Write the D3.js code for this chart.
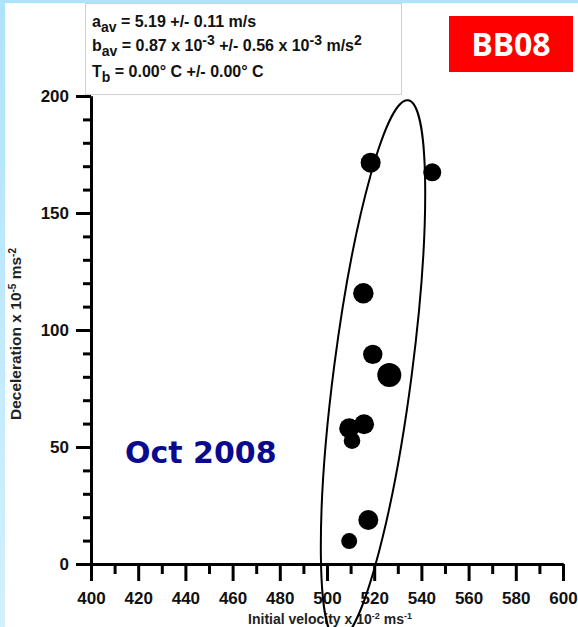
<!DOCTYPE html>
<html>
<head>
<meta charset="utf-8">
<script src="https://cdn.jsdelivr.net/npm/d3@7"></script>
<style>
  body { margin: 0; background: #fff; }
  svg { display: block; }
  text { font-family: "Liberation Sans", Arial, sans-serif; font-weight: bold; }
</style>
</head>
<body>
<svg id="chart"></svg>
<script>
// measurements (initial velocity x 10^-2 m/s, deceleration x 10^-5 m/s^2)
const velocity     = [518.5, 544.6, 515.4, 519.4, 526.4, 509.4, 515.7, 510.6, 517.5, 509.4];
const deceleration = [171.5, 167.4, 115.7,  89.6,  80.8,  58.0,  59.7,  52.7,  18.8,   9.8];
const weight       = [1.0, 0.81, 1.05, 0.94, 1.44, 1.0, 1.0, 0.69, 1.0, 0.64];

const xTicks = d3.range(400, 601, 20);
const xMinor = d3.range(410, 600, 20);
const yTicks = [0, 50, 100, 150, 200];
const yMinor = d3.range(10, 200, 10).filter(v => v % 50 !== 0);

// fitted ellipse around the cloud, centre in data units
const ellipseCentre = [519.5, 82.9];

const width = 578, height = 627;

const svg = d3.select("#chart")
  .attr("width", width)
  .attr("height", height);

// light blue frame on top / left
const defs = svg.append("defs");
const grad = defs.append("linearGradient")
  .attr("id", "frame").attr("x1", 0).attr("y1", 0).attr("x2", 0).attr("y2", 1);
grad.append("stop").attr("offset", "0%").attr("stop-color", "#ade3fb");
grad.append("stop").attr("offset", "100%").attr("stop-color", "#d3f0fc");

svg.append("rect").attr("width", width).attr("height", height).attr("fill", "url(#frame)");
svg.append("rect").attr("x", 5).attr("y", 3).attr("width", width - 5).attr("height", height - 3).attr("fill", "#fff");

const x = d3.scaleLinear().domain([400, 600]).range([91, 563]);
const y = d3.scaleLinear().domain([0, 200]).range([564, 96]);
const r = d3.scaleSqrt().domain([0, 1]).range([0, 10]);

// axes
svg.append("g")
  .attr("transform", `translate(0,${y(0)})`)
  .call(d3.axisBottom(x).tickValues(xTicks).tickSize(17).tickPadding(11).tickSizeOuter(0));
svg.append("g")
  .attr("transform", `translate(0,${y(0)})`)
  .call(d3.axisBottom(x).tickValues(xMinor).tickSize(10).tickFormat("").tickSizeOuter(0));

svg.append("g")
  .attr("transform", `translate(${x(400)},0)`)
  .call(d3.axisLeft(y).tickValues(yTicks).tickSize(15).tickPadding(7).tickSizeOuter(0));
svg.append("g")
  .attr("transform", `translate(${x(400)},0)`)
  .call(d3.axisLeft(y).tickValues(yMinor).tickSize(8).tickFormat("").tickSizeOuter(0));

svg.selectAll(".domain, .tick line")
  .attr("stroke", "#000")
  .attr("stroke-width", 3);
svg.selectAll(".tick text")
  .attr("fill", "#111")
  .style("font-size", "17px");

// axis titles
const xTitle = svg.append("text")
  .attr("x", 330)
  .attr("y", 624)
  .attr("text-anchor", "middle")
  .style("font-size", "14px")
  .attr("fill", "#222");
xTitle.append("tspan").text("Initial velocity x 10");
xTitle.append("tspan").attr("dy", -5).style("font-size", "9px").text("-2");
xTitle.append("tspan").attr("dy", 5).text(" ms");
xTitle.append("tspan").attr("dy", -5).style("font-size", "9px").text("-1");

const yTitle = svg.append("text")
  .attr("transform", "translate(21,334) rotate(-90)")
  .attr("text-anchor", "middle")
  .style("font-size", "15.5px")
  .attr("fill", "#222");
yTitle.append("tspan").text("Deceleration x 10");
yTitle.append("tspan").attr("dy", -5).style("font-size", "10px").text("-5");
yTitle.append("tspan").attr("dy", 5).text(" ms");
yTitle.append("tspan").attr("dy", -5).style("font-size", "10px").text("-2");

// points
const points = velocity.map((v, i) => ({ v: v, d: deceleration[i], w: weight[i] }));

svg.append("g")
  .selectAll("circle")
  .data(points)
  .enter()
  .append("circle")
  .attr("cx", d => x(d.v))
  .attr("cy", d => y(d.d))
  .attr("r", d => r(d.w))
  .attr("fill", "#000");

// the ellipse
svg.append("ellipse")
  .attr("cx", 0).attr("cy", 0)
  .attr("rx", 39).attr("ry", 272)
  .attr("transform", `translate(${x(ellipseCentre[0])},${y(ellipseCentre[1])}) rotate(7.4)`)
  .attr("fill", "none")
  .attr("stroke", "#000")
  .attr("stroke-width", 2);

// parameter box
const box = svg.append("g");
box.append("rect")
  .attr("x", 85.5).attr("y", 3.5)
  .attr("width", 316).attr("height", 91)
  .attr("fill", "#fff")
  .attr("stroke", "#d0d0d0");

function line(yPos, parts) {
  const t = box.append("text").attr("x", 92).attr("y", yPos).style("font-size", "16px").attr("fill", "#111");
  let shift = 0;
  parts.forEach(p => {
    const target = p[1] === "sub" ? 5 : p[1] === "sup" ? -6 : 0;
    t.append("tspan")
      .attr("dy", target - shift)
      .style("font-size", p[1] ? "14px" : "16px")
      .text(p[0]);
    shift = target;
  });
}

line(27, [["a"], ["av", "sub"], [" = 5.19 +/- 0.11 m/s"]]);
line(51, [["b"], ["av", "sub"], [" =  0.87 x 10"], ["-3", "sup"], [" +/- 0.56 x 10"], ["-3", "sup"], [" m/s"], ["2", "sup"]]);
line(77, [["T"], ["b", "sub"], [" = 0.00\u00b0 C +/- 0.00\u00b0 C"]]);

// BB08 tag
svg.append("rect")
  .attr("x", 449).attr("y", 16)
  .attr("width", 124).attr("height", 56)
  .attr("fill", "#ff0000");
svg.append("text")
  .attr("x", 511).attr("y", 56)
  .attr("text-anchor", "middle")
  .style("font-family", "'Noto Sans', sans-serif")
  .style("font-size", "32px")
  .attr("fill", "#fff")
  .text("BB08");

// date label
svg.append("text")
  .attr("x", 125).attr("y", 463)
  .style("font-family", "'DejaVu Sans', sans-serif")
  .style("font-size", "30px")
  .attr("fill", "#0a0a8f")
  .text("Oct 2008");
</script>
</body>
</html>
